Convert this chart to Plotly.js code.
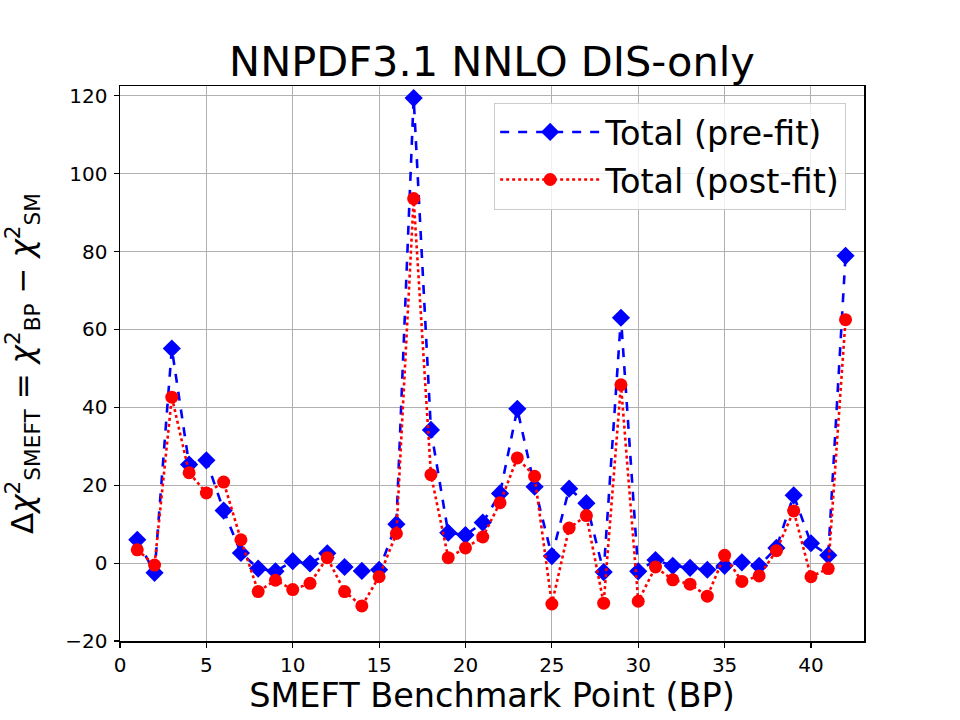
<!DOCTYPE html>
<html>
<head>
<meta charset="utf-8">
<script src="https://cdn.plot.ly/plotly-3.0.1.min.js"></script>
<style>
  html, body { margin: 0; padding: 0; background: #ffffff; }
  #chart { width: 960px; height: 720px; }
</style>
</head>
<body>
<div id="chart"></div>
<script>
// Benchmark point index (BP 1 .. 42)
const benchmarkPoints = [
  1, 2, 3, 4, 5, 6, 7, 8, 9, 10,
  11, 12, 13, 14, 15, 16, 17, 18, 19, 20,
  21, 22, 23, 24, 25, 26, 27, 28, 29, 30,
  31, 32, 33, 34, 35, 36, 37, 38, 39, 40,
  41, 42
];

// Δχ² before refitting the PDFs
const totalPreFit = [
  6.0, -2.5, 55.1, 25.3, 26.4, 13.5, 2.6, -1.4, -2.1, 0.5,
  -0.1, 2.5, -1.0, -2.0, -1.7, 10.0, 119.4, 34.2, 7.8, 7.2,
  10.4, 17.9, 39.6, 19.6, 1.8, 19.1, 15.4, -2.3, 63.0, -2.1,
  0.8, -0.7, -1.2, -1.7, -0.7, 0.2, -0.7, 3.9, 17.4, 5.1,
  2.0, 78.9
];

// Δχ² after refitting the PDFs
const totalPostFit = [
  3.4, -0.5, 42.6, 23.2, 18.0, 20.8, 6.0, -7.3, -4.4, -6.8,
  -5.2, 1.4, -7.3, -11.0, -3.5, 7.6, 93.6, 22.7, 1.4, 3.9,
  6.7, 15.5, 27.0, 22.3, -10.5, 9.0, 12.2, -10.3, 45.8, -9.8,
  -1.0, -4.3, -5.4, -8.5, 2.0, -4.7, -3.3, 3.2, 13.4, -3.5,
  -1.4, 62.5
];

const xTicks = [0, 5, 10, 15, 20, 25, 30, 35, 40];
const yTicks = [-20, 0, 20, 40, 60, 80, 100, 120];

const FONT = 'DejaVu Sans, sans-serif';

const traces = [
  {
    x: benchmarkPoints,
    y: totalPreFit,
    name: 'Total (pre-fit)',
    legendgroup: 'pre',
    type: 'scatter',
    mode: 'lines+markers',
    line: { color: '#0000ff', width: 2.6, dash: 'dash' },
    marker: { color: '#0000ff', symbol: 'diamond', size: 14 }
  },
  {
    x: benchmarkPoints,
    y: totalPostFit,
    name: 'Total (post-fit)',
    legendgroup: 'post',
    type: 'scatter',
    mode: 'lines+markers',
    line: { color: '#ff0000', width: 2.6, dash: 'dot' },
    marker: { color: '#ff0000', symbol: 'circle', size: 13 }
  }
];

const layout = {
  width: 960,
  height: 720,
  paper_bgcolor: '#ffffff',
  plot_bgcolor: '#ffffff',
  font: { family: FONT, color: '#000000', size: 20 },
  margin: { l: 120, r: 96, t: 86, b: 79, pad: 0 },
  showlegend: true,
  title: {
    text: 'NNPDF3.1 NNLO DIS-only',
    font: { family: FONT, size: 41.5, color: '#000000' },
    xref: 'paper',
    x: 0.5,
    xanchor: 'center',
    yref: 'container',
    y: 0.914,
    yanchor: 'middle'
  },
  xaxis: {
    range: [0, 43.07],
    tickvals: xTicks,
    ticktext: xTicks.map(String),
    ticks: 'outside',
    ticklen: 5,
    tickwidth: 1.2,
    tickcolor: '#000000',
    tickfont: { family: FONT, size: 20, color: '#000000' },
    showgrid: true,
    gridcolor: '#b0b0b0',
    gridwidth: 1,
    zeroline: false,
    showline: true,
    linecolor: '#000000',
    linewidth: 1.5,
    mirror: true,
    title: {
      text: 'SMEFT Benchmark Point (BP)',
      font: { family: FONT, size: 33.5, color: '#000000' },
      standoff: 2
    }
  },
  yaxis: {
    range: [-20, 122.5],
    tickvals: yTicks,
    ticktext: yTicks.map(v => (v < 0 ? '\u2212' + Math.abs(v) : String(v))),
    ticks: 'outside',
    ticklen: 5,
    tickwidth: 1.2,
    tickcolor: '#000000',
    tickfont: { family: FONT, size: 20, color: '#000000' },
    ticklabelstandoff: 2,
    showgrid: true,
    gridcolor: '#b0b0b0',
    gridwidth: 1,
    zeroline: false,
    showline: true,
    linecolor: '#000000',
    linewidth: 1.5,
    mirror: true,
    title: {
      text: 'Δ<i>χ</i><sup>2</sup><sub>SMEFT</sub> = <i>χ</i><sup>2</sup><sub>BP</sub> − <i>χ</i><sup>2</sup><sub>SM</sub>',
      font: { family: FONT, size: 31, color: '#000000' },
      standoff: 22
    }
  },
  legend: {
    x: 0.976,
    y: 0.970,
    xanchor: 'right',
    yanchor: 'top',
    bgcolor: 'rgba(255,255,255,0.8)',
    bordercolor: '#cccccc',
    borderwidth: 1,
    font: { family: FONT, size: 33.5, color: '#000000' },
    itemwidth: 100,
    traceorder: 'grouped',
    tracegroupgap: 1
  }
};

Plotly.newPlot('chart', traces, layout, { displayModeBar: false, staticPlot: true });
</script>
</body>
</html>
